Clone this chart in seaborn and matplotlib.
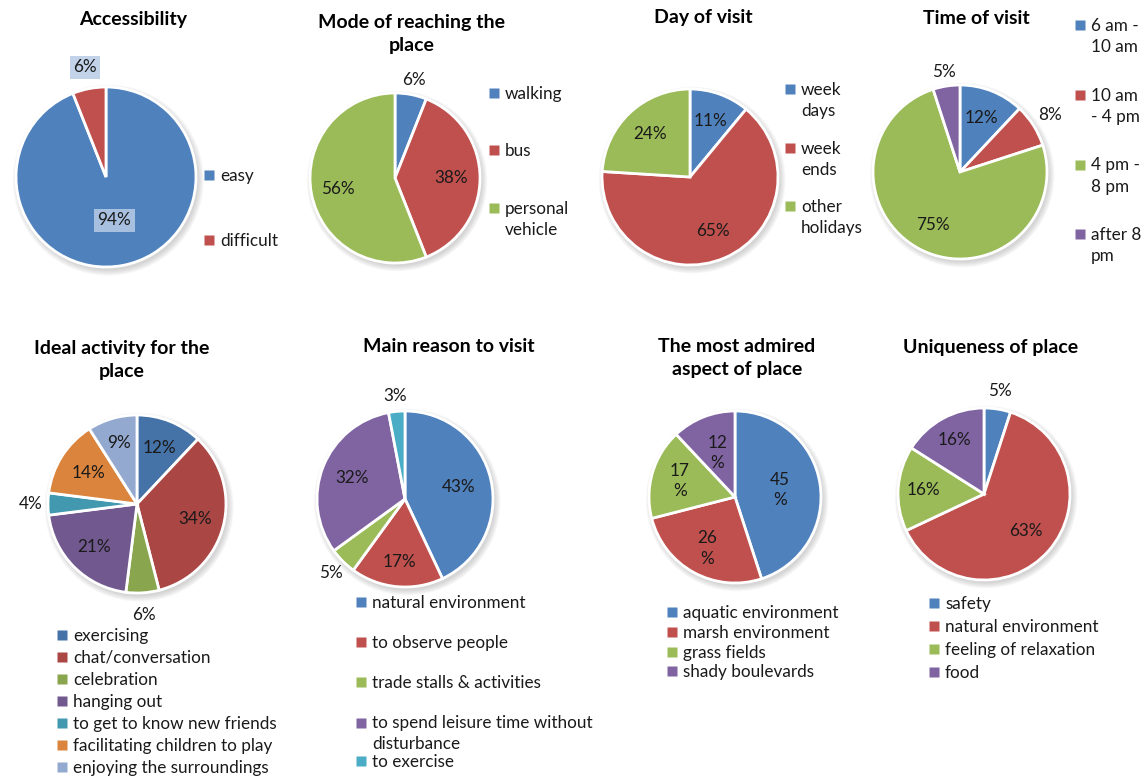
import numpy as np
import matplotlib
matplotlib.use("Agg")
import matplotlib.pyplot as plt
import seaborn as sns
from matplotlib.lines import Line2D
from matplotlib.patches import Circle
from matplotlib.legend_handler import HandlerLine2D

sns.set_theme(style="white")
plt.rcParams['font.family'] = ['Lato', 'DejaVu Sans']

# ---------------- data ----------------
access_labels = ['easy', 'difficult']
access_vals = [94, 6]

mode_labels = ['walking', 'bus', 'personal\nvehicle']
mode_vals = [6, 38, 56]

day_labels = ['week\ndays', 'week\nends', 'other\nholidays']
day_vals = [11, 65, 24]

time_labels = ['6 am -\n10 am', '10 am\n- 4 pm', '4 pm -\n8 pm', 'after 8\npm']
time_vals = [12, 8, 75, 5]

activity_labels = ['exercising', 'chat/conversation', 'celebration', 'hanging out',
                   'to get to know new friends', 'facilitating children to play',
                   'enjoying the surroundings']
activity_vals = [12, 34, 6, 21, 4, 14, 9]

reason_labels = ['natural environment', 'to observe people', 'trade stalls & activities',
                 'to spend leisure time without\ndisturbance', 'to exercise']
reason_vals = [43, 17, 5, 32, 3]

admired_labels = ['aquatic environment', 'marsh environment', 'grass fields', 'shady boulevards']
admired_vals = [45, 26, 17, 12]

unique_labels = ['safety', 'natural environment', 'feeling of relaxation', 'food']
unique_vals = [5, 63, 16, 16]

# ---------------- styles ----------------
office = sns.color_palette(['#4F81BD', '#C0504D', '#9BBB59', '#8064A2', '#4BACC6', '#F79646'])
dark = sns.color_palette(['#4572A7', '#AA4643', '#89A54E', '#71588F', '#4198AF', '#DB843D', '#93A9CF'])

W, H = 1147, 778
fig = plt.figure(figsize=(W / 100, H / 100), dpi=100)
fig.patch.set_facecolor('white')

FS = 12.3
TFS = 14


class ShiftHandler(HandlerLine2D):
    def __init__(self, dy, **kw):
        super().__init__(**kw)
        self.dy = dy

    def create_artists(self, legend, orig_handle, xdescent, ydescent, width, height, fontsize, trans):
        arts = super().create_artists(legend, orig_handle, xdescent, ydescent, width, height, fontsize, trans)
        for a in arts:
            a.set_ydata(np.asarray(a.get_ydata(), dtype=float) + self.dy)
        return arts


def draw_pie(cx, cy, r, vals, colors, dists, fmt='{}%', boxed=False):
    ax = fig.add_axes([(cx - r) / W, 1 - (cy + r) / H, 2 * r / W, 2 * r / H])
    # soft shadow
    for k in range(6):
        ax.add_patch(Circle((0.025, -0.035), 1.0 + 0.012 * k, facecolor='#7f7f7f',
                            edgecolor='none', alpha=0.06, zorder=0, clip_on=False))
    wedges, _ = ax.pie(vals, colors=colors, startangle=90, counterclock=False, radius=1,
                       wedgeprops=dict(edgecolor='white', linewidth=2.0))
    ax.set_xlim(-1, 1)
    ax.set_ylim(-1, 1)
    ax.axis('off')
    for w in wedges:
        w.set_zorder(2)
    for w, v, d in zip(wedges, vals, dists):
        th = np.deg2rad((w.theta1 + w.theta2) / 2)
        kw = {}
        if boxed:
            kw['bbox'] = dict(boxstyle='square,pad=0.2', facecolor='#b8cce6', edgecolor='none', alpha=0.85)
        ax.text(d * np.cos(th), d * np.sin(th), fmt.format(v), ha='center', va='center',
                fontsize=FS, color='#1a1a1a', clip_on=False, zorder=5, linespacing=1.35, **kw)
    return ax, wedges


def add_legend(wedges, labels, x, y, spacing, idx=None):
    idx = range(len(labels)) if idx is None else idx
    handles, labs, hmap = [], [], {}
    for i in idx:
        h = Line2D([], [], linestyle='none', marker='s', markersize=7,
                   markerfacecolor=wedges[i].get_facecolor(), markeredgecolor='none')
        handles.append(h)
        labs.append(labels[i])
        if '\n' in labels[i]:
            hmap[h] = ShiftHandler(dy=8.5)
    leg = fig.legend(handles, labs, loc='upper left', bbox_to_anchor=((x - 2) / W, 1 - (y - 6) / H),
                     frameon=False, fontsize=FS, borderpad=0, borderaxespad=0,
                     handlelength=0.75, handletextpad=0.25, labelspacing=spacing,
                     handler_map=hmap)
    for t in leg.get_texts():
        t.set_linespacing(1.4)
        t.set_color('#1a1a1a')
    return leg


def title(x, y, s):
    fig.text(x / W, 1 - y / H, s, ha='center', va='center', fontsize=TFS,
             fontweight='bold', linespacing=1.45, color='black')


# 1 Accessibility
title(133, 20, 'Accessibility')
_, w = draw_pie(106, 177, 90, access_vals, office[:2], [0.49, 1.24], boxed=True)
add_legend(w, access_labels, 205, 174, 2.86)

# 2 Mode
title(412, 34, 'Mode of reaching the\nplace')
_, w = draw_pie(395, 178, 85, mode_vals, [office[0], office[1], office[2]], [1.17, 0.66, 0.68])
add_legend(w, mode_labels, 490, 92, 2.42)

# 3 Day
title(703, 18, 'Day of visit')
_, w = draw_pie(690, 177, 88, day_vals, office[:3], [0.68, 0.67, 0.67])
add_legend(w, day_labels, 786, 88, 1.25)

# 4 Time
title(976, 18, 'Time of visit')
_, w = draw_pie(960, 172, 87, time_vals, office[:4], [0.67, 1.23, 0.68, 1.16])
add_legend(w, time_labels, 1076, 24, 1.9)

# 5 Ideal activity
title(122, 360, 'Ideal activity for the\nplace')
_, w = draw_pie(137, 504, 89, activity_vals, dark, [0.68, 0.68, 1.25, 0.68, 1.2, 0.65, 0.71])
add_legend(w, activity_labels, 58, 634, 0.35)

# 6 Main reason
title(449, 347, 'Main reason to visit')
_, w = draw_pie(405, 499, 88, reason_vals, office[:5], [0.63, 0.72, 1.19, 0.65, 1.17])
add_legend(w, reason_labels, 357, 601, 1.41, idx=[0, 1, 2, 3])
add_legend(w, reason_labels, 357, 760, 0.5, idx=[4])

# 7 Most admired
title(737, 358, 'The most admired\naspect of place')
_, w = draw_pie(735, 497, 86, admired_vals, office[:4], [0.53, 0.68, 0.67, 0.55], fmt='{}\n%')
add_legend(w, admired_labels, 668, 611, 0.22)

# 8 Uniqueness
title(991, 347, 'Uniqueness of place')
_, w = draw_pie(984, 494, 86, unique_vals, office[:4], [1.21, 0.65, 0.71, 0.71])
add_legend(w, unique_labels, 930, 602, 0.40)

fig.savefig('out.png', dpi=100, facecolor='white')
